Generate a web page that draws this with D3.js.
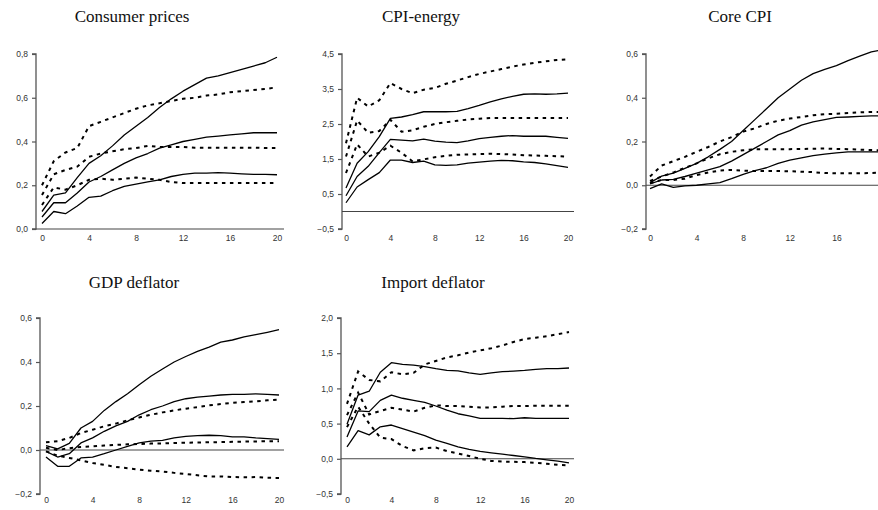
<!DOCTYPE html>
<html>
<head>
<meta charset="utf-8">
<script src="https://cdn.jsdelivr.net/npm/d3@7"></script>
<style>
  html, body { margin: 0; padding: 0; background: #fff; }
  svg { display: block; }
</style>
</head>
<body>
<svg id="chart" width="878" height="510"></svg>
<script>
// ---------- DATA ----------
const horizons = [0,1,2,3,4,5,6,7,8,9,10,11,12,13,14,15,16,17,18,19,20];
const xTickValues = [0,4,8,12,16,20];

// Consumer prices
const cpSolidHigh = [0.08,0.155,0.165,0.235,0.30,0.335,0.38,0.43,0.47,0.51,0.555,0.595,0.63,0.66,0.69,0.70,0.715,0.73,0.745,0.76,0.785];
const cpSolidMid  = [0.055,0.12,0.12,0.165,0.215,0.24,0.27,0.30,0.325,0.345,0.37,0.385,0.40,0.41,0.42,0.425,0.43,0.435,0.44,0.44,0.44];
const cpSolidLow  = [0.025,0.08,0.07,0.105,0.145,0.15,0.175,0.195,0.205,0.215,0.225,0.24,0.25,0.255,0.255,0.258,0.255,0.252,0.25,0.25,0.248];
const cpDashHigh  = [0.2,0.31,0.35,0.37,0.47,0.49,0.51,0.53,0.55,0.565,0.575,0.585,0.595,0.60,0.61,0.615,0.625,0.63,0.635,0.64,0.648];
const cpDashMid   = [0.155,0.25,0.27,0.285,0.33,0.345,0.355,0.365,0.37,0.38,0.375,0.375,0.375,0.372,0.372,0.372,0.372,0.372,0.372,0.37,0.37];
const cpDashLow   = [0.11,0.19,0.18,0.20,0.225,0.23,0.225,0.23,0.235,0.23,0.225,0.215,0.21,0.21,0.21,0.21,0.21,0.21,0.21,0.21,0.211];

// CPI-energy
const ceSolidHigh = [0.67,1.38,1.71,2.14,2.66,2.70,2.77,2.85,2.85,2.85,2.86,2.94,3.03,3.13,3.22,3.29,3.35,3.36,3.35,3.36,3.38];
const ceSolidMid  = [0.45,1.0,1.29,1.68,2.06,2.04,2.02,2.07,2.01,1.98,1.97,2.02,2.08,2.12,2.15,2.17,2.15,2.15,2.15,2.12,2.09];
const ceSolidLow  = [0.25,0.70,0.91,1.11,1.47,1.47,1.40,1.44,1.33,1.32,1.33,1.38,1.41,1.44,1.46,1.45,1.42,1.40,1.36,1.31,1.26];
const ceDashHigh  = [1.95,3.25,3.0,3.18,3.67,3.5,3.38,3.48,3.53,3.65,3.74,3.84,3.93,4.0,4.07,4.14,4.2,4.25,4.29,4.33,4.35];
const ceDashMid   = [1.57,2.6,2.25,2.3,2.62,2.28,2.32,2.42,2.5,2.55,2.59,2.63,2.65,2.67,2.67,2.67,2.67,2.67,2.67,2.67,2.67];
const ceDashLow   = [1.1,1.92,1.57,1.68,1.88,1.68,1.43,1.49,1.55,1.59,1.62,1.63,1.64,1.65,1.64,1.63,1.61,1.60,1.59,1.58,1.57];

// Core CPI
const ccSolidHigh = [0.012,0.042,0.055,0.077,0.10,0.13,0.164,0.20,0.25,0.30,0.35,0.40,0.44,0.48,0.51,0.53,0.547,0.57,0.59,0.61,0.62];
const ccSolidMid  = [0.006,0.024,0.027,0.04,0.055,0.07,0.085,0.11,0.14,0.17,0.20,0.23,0.25,0.275,0.29,0.30,0.31,0.312,0.315,0.317,0.318];
const ccSolidLow  = [-0.015,0.006,-0.01,-0.003,0.0,0.006,0.012,0.03,0.05,0.067,0.08,0.10,0.115,0.125,0.135,0.142,0.148,0.153,0.153,0.153,0.153];
const ccDashHigh  = [0.04,0.09,0.11,0.13,0.153,0.175,0.20,0.22,0.245,0.26,0.28,0.295,0.305,0.312,0.32,0.325,0.327,0.33,0.333,0.335,0.335];
const ccDashMid   = [0.02,0.04,0.058,0.08,0.10,0.123,0.142,0.153,0.16,0.164,0.165,0.165,0.165,0.166,0.167,0.168,0.166,0.165,0.163,0.161,0.16];
const ccDashLow   = [0.01,0.024,0.024,0.03,0.047,0.058,0.067,0.07,0.067,0.065,0.065,0.065,0.064,0.062,0.06,0.056,0.055,0.055,0.055,0.056,0.058];

// GDP deflator
const gdSolidHigh = [0.02,0.005,0.03,0.10,0.13,0.18,0.22,0.256,0.297,0.335,0.368,0.40,0.425,0.448,0.468,0.49,0.50,0.514,0.524,0.535,0.547];
const gdSolidMid  = [-0.006,-0.032,-0.017,0.032,0.055,0.085,0.11,0.13,0.16,0.183,0.20,0.22,0.233,0.24,0.245,0.25,0.253,0.253,0.255,0.253,0.25];
const gdSolidLow  = [-0.032,-0.074,-0.074,-0.036,-0.032,-0.017,0.0,0.017,0.032,0.04,0.044,0.055,0.062,0.065,0.067,0.065,0.06,0.06,0.055,0.052,0.048];
const gdDashHigh  = [0.035,0.04,0.055,0.077,0.092,0.108,0.12,0.135,0.148,0.16,0.171,0.18,0.188,0.195,0.203,0.209,0.214,0.218,0.221,0.226,0.229];
const gdDashMid   = [0.01,0.0,0.008,0.014,0.017,0.02,0.023,0.026,0.027,0.029,0.03,0.032,0.033,0.034,0.035,0.036,0.037,0.038,0.039,0.04,0.04];
const gdDashLow   = [-0.006,-0.026,-0.036,-0.047,-0.059,-0.067,-0.077,-0.083,-0.089,-0.094,-0.098,-0.104,-0.109,-0.115,-0.12,-0.12,-0.123,-0.124,-0.123,-0.126,-0.127];

// Import deflator
const idSolidHigh = [0.49,0.905,0.96,1.23,1.365,1.34,1.33,1.31,1.28,1.256,1.25,1.22,1.20,1.22,1.237,1.246,1.256,1.27,1.28,1.28,1.29];
const idSolidMid  = [0.31,0.68,0.67,0.83,0.905,0.86,0.83,0.80,0.75,0.69,0.64,0.61,0.575,0.575,0.575,0.57,0.583,0.575,0.575,0.575,0.575];
const idSolidLow  = [0.17,0.40,0.34,0.455,0.48,0.43,0.38,0.33,0.265,0.22,0.17,0.133,0.104,0.085,0.066,0.047,0.028,0.005,-0.014,-0.033,-0.057];
const idDashHigh  = [0.78,1.24,1.12,1.10,1.23,1.20,1.22,1.34,1.39,1.44,1.47,1.51,1.54,1.57,1.61,1.66,1.70,1.72,1.74,1.77,1.80];
const idDashMid   = [0.62,0.94,0.63,0.68,0.725,0.70,0.67,0.725,0.76,0.75,0.75,0.74,0.73,0.73,0.74,0.75,0.75,0.753,0.753,0.753,0.753];
const idDashLow   = [0.45,0.74,0.50,0.30,0.28,0.18,0.12,0.15,0.16,0.11,0.076,0.04,0.0,-0.03,-0.04,-0.043,-0.047,-0.057,-0.07,-0.085,-0.095];

const titles = ["Consumer prices","CPI-energy","Core CPI","GDP deflator","Import deflator"];
const yTicks = [
  [0,0.2,0.4,0.6,0.8],
  [-0.5,0.5,1.5,2.5,3.5,4.5],
  [-0.2,0,0.2,0.4,0.6],
  [-0.2,0,0.2,0.4,0.6],
  [-0.5,0,0.5,1.0,1.5,2.0]
];

// ---------- LAYOUT ----------
const layout = [
  {axisX:36,  x0:42,  x1:277, lineEnd:284, top:54,  bottom:229, titleX:132, titleY:22,  xLabY:243},
  {axisX:342, x0:346, x1:568, lineEnd:574, top:54,  bottom:229, titleX:421, titleY:22,  xLabY:243},
  {axisX:646, x0:650, x1:883, lineEnd:890, top:54,  bottom:229, titleX:740, titleY:22,  xLabY:243},
  {axisX:40,  x0:46,  x1:279, lineEnd:284, top:318, bottom:494, titleX:134, titleY:288, xLabY:505},
  {axisX:341, x0:347, x1:569, lineEnd:574, top:318, bottom:494, titleX:433, titleY:288, xLabY:505}
];

const panelSeries = [
  {solid:[cpSolidHigh,cpSolidMid,cpSolidLow], dashed:[cpDashHigh,cpDashMid,cpDashLow]},
  {solid:[ceSolidHigh,ceSolidMid,ceSolidLow], dashed:[ceDashHigh,ceDashMid,ceDashLow]},
  {solid:[ccSolidHigh,ccSolidMid,ccSolidLow], dashed:[ccDashHigh,ccDashMid,ccDashLow]},
  {solid:[gdSolidHigh,gdSolidMid,gdSolidLow], dashed:[gdDashHigh,gdDashMid,gdDashLow]},
  {solid:[idSolidHigh,idSolidMid,idSolidLow], dashed:[idDashHigh,idDashMid,idDashLow]}
];

const locale = d3.formatLocale({decimal: ",", thousands: ".", grouping: [3], currency: ["", ""]});
const fmt = locale.format(".1f");

const svg = d3.select("#chart");

panelSeries.forEach((ps, i) => {
  const L = layout[i];
  const ticks = yTicks[i];
  const g = svg.append("g");
  const x = d3.scaleLinear().domain([0, 20]).range([L.x0, L.x1]);
  const y = d3.scaleLinear().domain([ticks[0], ticks[ticks.length - 1]]).range([L.bottom, L.top]);

  // title
  g.append("text")
    .attr("x", L.titleX).attr("y", L.titleY)
    .attr("text-anchor", "middle")
    .attr("font-family", "'Liberation Serif','Times New Roman',serif")
    .attr("font-size", 17)
    .attr("fill", "#111")
    .text(titles[i]);

  // y axis
  const yAxis = d3.axisLeft(y).tickValues(ticks).tickSize(4).tickPadding(4).tickFormat(fmt);
  const ya = g.append("g").attr("transform", `translate(${L.axisX},0)`).call(yAxis);
  ya.select(".domain").attr("stroke", "#555").attr("stroke-width", 1.3).attr("d", `M-4,${L.top}H0V${L.bottom}H-4`);
  ya.selectAll(".tick line").attr("stroke", "#555").attr("stroke-width", 1.2);
  ya.selectAll(".tick text")
    .attr("font-family", "'Liberation Sans',Arial,sans-serif")
    .attr("font-size", 8.5)
    .attr("fill", "#333");

  // zero line
  g.append("line")
    .attr("x1", L.axisX).attr("x2", L.lineEnd)
    .attr("y1", y(0)).attr("y2", y(0))
    .attr("stroke", "#444").attr("stroke-width", 1.1);

  // x tick labels
  const xAxis = d3.axisBottom(x).tickValues(xTickValues).tickSize(0).tickPadding(0).tickFormat(d3.format("d"));
  const xa = g.append("g").attr("transform", `translate(0,${L.xLabY - 8})`).call(xAxis);
  xa.select(".domain").remove();
  xa.selectAll(".tick text")
    .attr("font-family", "'Liberation Sans',Arial,sans-serif")
    .attr("font-size", 8.5)
    .attr("fill", "#333");

  const line = d3.line().x((d, j) => x(horizons[j])).y(d => y(d));

  ps.dashed.forEach(s => {
    g.append("path").datum(s).attr("d", line)
      .attr("fill", "none").attr("stroke", "#000")
      .attr("stroke-width", 2).attr("stroke-dasharray", "3.5,4.5");
  });
  ps.solid.forEach(s => {
    g.append("path").datum(s).attr("d", line)
      .attr("fill", "none").attr("stroke", "#000")
      .attr("stroke-width", 1.3).attr("stroke-linejoin", "round");
  });
});
</script>
</body>
</html>
